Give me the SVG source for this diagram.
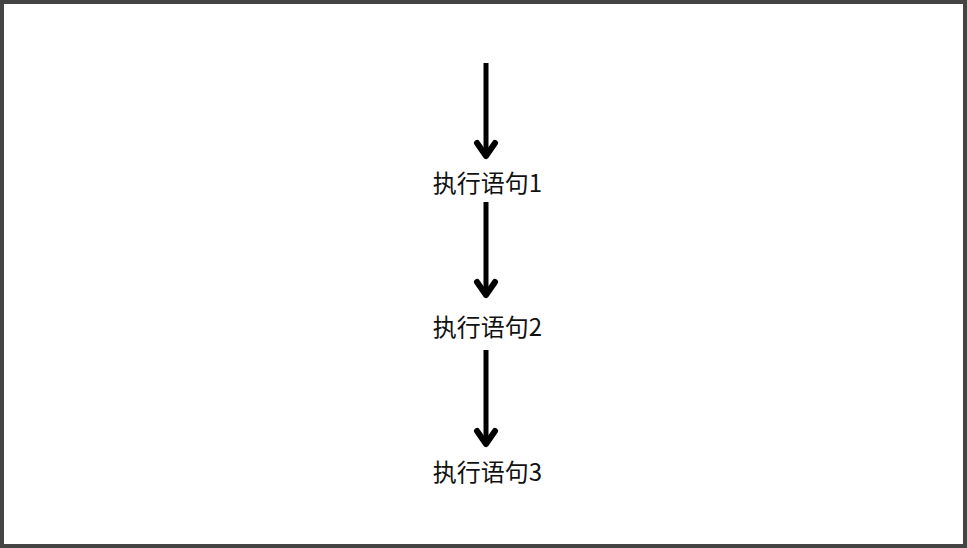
<svg xmlns="http://www.w3.org/2000/svg" width="967" height="548" viewBox="0 0 967 548">
  <style>
    .lbl { font-family: "Noto Sans CJK SC", "Noto Sans", sans-serif; font-size: 24px; fill: #111; text-anchor: middle; }
    .conn { stroke: #000; stroke-width: 5; fill: none; marker-end: url(#chev); }
  </style>
  <defs>
    <marker id="chev" markerUnits="userSpaceOnUse" orient="auto" refX="0" refY="0" markerWidth="40" markerHeight="40" viewBox="-20 -20 40 40" overflow="visible">
      <path d="M-13,-9 L0,0 L-13,9" fill="none" stroke="#000" stroke-width="6" stroke-linecap="round" stroke-linejoin="round"/>
    </marker>
  </defs>
  <rect x="2" y="2" width="963" height="544" fill="#fff" stroke="#444" stroke-width="4"/>
  <g id="connectors">
    <path class="conn" d="M486,63 L486,156"/>
    <path class="conn" d="M486,202 L486,295"/>
    <path class="conn" d="M486,350 L486,444"/>
  </g>
  <g id="node1"><text class="lbl" x="487.5" y="192">执行语句1</text></g>
  <g id="node2"><text class="lbl" x="487.5" y="336">执行语句2</text></g>
  <g id="node3"><text class="lbl" x="487.5" y="481">执行语句3</text></g>
</svg>
